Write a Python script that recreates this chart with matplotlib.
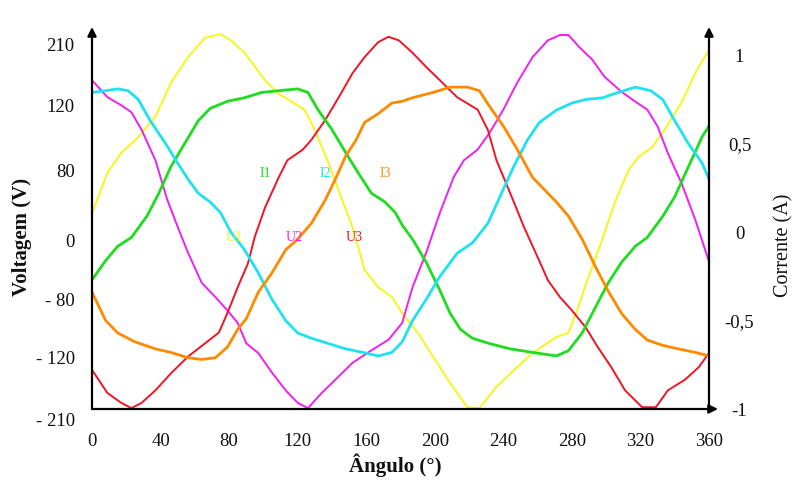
import matplotlib
matplotlib.use("Agg")
import matplotlib.pyplot as plt
from matplotlib.transforms import ScaledTranslation

plt.rcParams['font.family'] = ['Liberation Serif', 'DejaVu Serif']

# Phase voltages (V) versus angle (degrees)
u1_angle = [0, 9, 17, 27, 37, 46, 56, 66, 75, 81, 89, 101, 108, 124, 130, 138, 146, 152,
            159, 167, 175, 181, 190, 199, 209, 219, 226, 236, 248, 257, 271, 278, 283, 289,
            297, 305, 313, 319, 327, 334, 344, 353, 360]
u1_volt = [10, 56, 78, 96, 119, 157, 186, 208, 212, 205, 191, 160, 146, 127, 104, 67, 25, -5,
           -53, -73, -84, -102, -124, -151, -181, -208, -209, -185, -163, -147, -129, -124, -99, -65,
           -23, 22, 59, 74, 85, 104, 135, 172, 194]

u2_angle = [0, 9, 17, 23, 29, 37, 44, 50, 56, 64, 72, 79, 85, 90, 97, 105, 113, 120, 126, 134,
            142, 152, 163, 173, 181, 187, 195, 203, 211, 217, 225, 232, 240, 248, 257, 266, 273,
            278, 284, 292, 299, 309, 317, 324, 330, 336, 344, 352, 360]
u2_volt = [160, 141, 132, 124, 104, 70, 25, -5, -34, -68, -84, -99, -113, -136, -147, -169, -189,
           -203, -209, -192, -177, -158, -144, -132, -113, -73, -34, 11, 51, 70, 82, 101, 127, 157,
           186, 205, 211, 211, 198, 183, 164, 147, 136, 127, 108, 78, 44, 3, -44]

u3_angle = [0, 9, 17, 23, 29, 37, 46, 56, 66, 74, 79, 85, 91, 95, 101, 109, 114, 123, 128, 136,
            144, 152, 159, 167, 173, 179, 187, 195, 203, 213, 225, 231, 236, 244, 252, 260, 266,
            273, 280, 288, 295, 303, 311, 321, 329, 336, 346, 354, 360]
u3_volt = [-166, -192, -203, -209, -203, -189, -170, -151, -136, -124, -102, -73, -46, -16, 17, 51,
           70, 82, 93, 115, 141, 168, 186, 203, 209, 205, 191, 175, 160, 141, 127, 104, 70, 33, -5,
           -39, -65, -84, -99, -118, -140, -163, -189, -208, -208, -189, -177, -163, -147]

# Line currents (A) versus angle (degrees)
i1_angle = [0, 8, 15, 23, 32, 39, 46, 54, 62, 69, 79, 89, 99, 109, 120, 126, 132, 140, 148, 155,
            163, 171, 177, 181, 187, 195, 203, 209, 215, 222, 232, 244, 257, 271, 278, 286, 294,
            301, 309, 317, 324, 333, 340, 348, 356, 360]
i1_amp = [-0.27, -0.16, -0.08, -0.03, 0.09, 0.22, 0.37, 0.50, 0.63, 0.70, 0.74, 0.76, 0.79, 0.80,
          0.81, 0.79, 0.69, 0.58, 0.45, 0.34, 0.22, 0.17, 0.11, 0.04, -0.04, -0.17, -0.33, -0.46,
          -0.55, -0.60, -0.63, -0.66, -0.68, -0.70, -0.67, -0.57, -0.42, -0.29, -0.17, -0.08, -0.03,
          0.09, 0.20, 0.37, 0.54, 0.60]

i2_angle = [0, 8, 15, 21, 27, 34, 43, 50, 56, 62, 69, 75, 81, 89, 97, 105, 113, 120, 128, 138,
            148, 158, 167, 175, 181, 187, 195, 203, 213, 222, 231, 238, 246, 254, 261, 271, 280,
            288, 298, 307, 317, 326, 333, 340, 348, 356, 360]
i2_amp = [0.79, 0.80, 0.81, 0.80, 0.75, 0.63, 0.50, 0.39, 0.30, 0.22, 0.17, 0.11, 0.00, -0.10,
          -0.23, -0.38, -0.50, -0.57, -0.60, -0.63, -0.66, -0.68, -0.70, -0.68, -0.62, -0.50, -0.38,
          -0.25, -0.12, -0.06, 0.05, 0.20, 0.37, 0.52, 0.62, 0.69, 0.73, 0.75, 0.76, 0.79, 0.82,
          0.80, 0.75, 0.63, 0.50, 0.39, 0.30]

i3_angle = [0, 8, 15, 25, 37, 46, 56, 64, 72, 79, 85, 90, 97, 105, 113, 120, 128, 136, 142, 148,
            154, 159, 167, 175, 181, 187, 199, 209, 219, 226, 232, 240, 248, 257, 266, 271, 278,
            286, 294, 301, 309, 317, 324, 333, 342, 352, 360]
i3_amp = [-0.34, -0.50, -0.57, -0.62, -0.66, -0.68, -0.71, -0.72, -0.71, -0.65, -0.55, -0.49,
          -0.34, -0.23, -0.10, -0.04, 0.05, 0.18, 0.30, 0.43, 0.52, 0.62, 0.67, 0.73, 0.74, 0.76,
          0.79, 0.82, 0.82, 0.80, 0.71, 0.60, 0.47, 0.31, 0.22, 0.17, 0.09, -0.04, -0.20, -0.33,
          -0.46, -0.55, -0.61, -0.64, -0.66, -0.68, -0.70]

# Axis ticks
angle_ticks = [0, 40, 80, 120, 160, 200, 240, 280, 320, 360]
volt_tick_labels = ['210', '120', '80', '0', '- 80', '- 120', '- 210']
volt_tick_pos = [200, 132, 59, -20, -87, -152, -210]
current_ticks = [1, 0.5, 0, -0.5, -1]
current_tick_labels = ['1', '0,5', '0', '-0,5', '-1']

# Curve names with their colours and label anchors (angle, volts)
series_names = ['U1', 'U2', 'U3', 'I1', 'I2', 'I3']
series_colors = ['#f6f61a', '#f020f0', '#f01426', '#1edc1e', '#1ee2f0', '#ff8a00']
name_pos = [(83, -17), (118, -17), (153, -17), (101, 55), (136, 55), (171, 55)]

W, H = 797, 480
fig = plt.figure(figsize=(W / 100, H / 100), dpi=100)
ax = fig.add_axes([92 / W, 1 - 409 / H, 617 / W, 382 / H])
ax2 = ax.twinx()

ax.set_xlim(0, 360)
ax.set_ylim(-210, 220)
ax2.set_ylim(-1, 1.16)

volt_lw, amp_lw = 1.4, 2.0
ax.plot(u1_angle, u1_volt, color=series_colors[0], lw=volt_lw)
ax.plot(u2_angle, u2_volt, color=series_colors[1], lw=volt_lw)
ax.plot(u3_angle, u3_volt, color=series_colors[2], lw=volt_lw)
ax2.plot(i1_angle, i1_amp, color=series_colors[3], lw=amp_lw)
ax2.plot(i2_angle, i2_amp, color=series_colors[4], lw=amp_lw)
ax2.plot(i3_angle, i3_amp, color=series_colors[5], lw=amp_lw)

for name, col, (xa, yv) in zip(series_names, series_colors, name_pos):
    ax2.text(xa, yv, name, color=col, fontsize=10, ha='center', va='center',
             transform=ax.transData)

for a in (ax, ax2):
    for s in a.spines.values():
        s.set_visible(False)

# Axis lines drawn as arrows
arrow = dict(arrowstyle='-|>', color='black', lw=1.6, mutation_scale=13,
             shrinkA=0, shrinkB=0)
ax2.annotate('', xy=(0, 1), xytext=(0, 0), xycoords='axes fraction',
             textcoords='axes fraction', arrowprops=arrow, annotation_clip=False)
ax2.annotate('', xy=(1, 1), xytext=(1, 0), xycoords='axes fraction',
             textcoords='axes fraction', arrowprops=arrow, annotation_clip=False)
ax2.annotate('', xy=(1.0146, 0), xytext=(0, 0), xycoords='axes fraction',
             textcoords='axes fraction', arrowprops=arrow, annotation_clip=False)

tick_font = 13.5
ax.set_xticks(angle_ticks)
ax.set_xticklabels([str(t) for t in angle_ticks])
ax.tick_params(axis='x', length=0, pad=17, labelsize=tick_font, labelcolor='#111111')
ax.set_yticks(volt_tick_pos)
ax.set_yticklabels(volt_tick_labels)
ax.tick_params(axis='y', length=0, pad=12.5, labelsize=tick_font, labelcolor='#111111')
ax2.set_yticks(current_ticks)
ax2.set_yticklabels(current_tick_labels)
ax2.tick_params(axis='y', length=0, pad=22, labelsize=tick_font, labelcolor='#111111')
for lab in ax2.get_yticklabels():
    lab.set_horizontalalignment('center')

# the lowest voltage label sits a little below the baseline
low = ax.yaxis.get_major_ticks()[-1].label1
low.set_transform(low.get_transform() + ScaledTranslation(0, -10 / 100, fig.dpi_scale_trans))

fig.text(22 / W, 1 - 237 / H, 'Voltagem (V)', rotation=90, ha='center', va='center',
         fontsize=15, fontweight='bold', color='#111111')
fig.text(784 / W, 1 - 245 / H, 'Corrente (A)', rotation=90, ha='center', va='center',
         fontsize=14.5, color='#111111')
fig.text(395 / W, 1 - 465 / H, 'Ângulo (°)', ha='center', va='center',
         fontsize=15, fontweight='bold', color='#111111')

fig.savefig('out.png', dpi=100, facecolor='white')
